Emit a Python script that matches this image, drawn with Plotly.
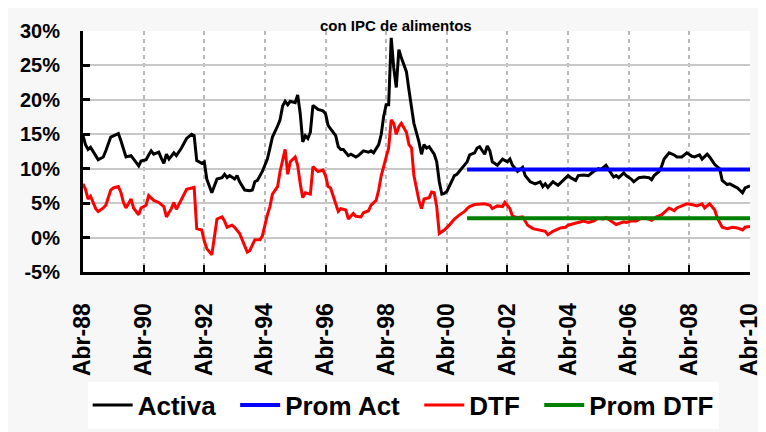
"""Tasas de interés reales (Activa y DTF) con IPC de alimentos — plotly chart."""

from __future__ import annotations

import pandas as pd
import plotly.graph_objects as go

# ── data ─────────────────────────────────────────────────────────────

START = "1988-04-01"

# months elapsed since Abr-88, real rates in %
ACT_MONTHS = [
    0, 1, 2, 3, 5, 6, 8, 9, 11, 14,
    15, 16, 17, 19, 20, 22, 23, 25, 26, 27,
    28, 30, 31, 32, 33, 34, 36, 37, 39, 41,
    43, 44, 45, 47, 48, 49, 51, 52, 53, 55,
    56, 57, 58, 60, 61, 62, 64, 66, 67, 68,
    69, 71, 73, 74, 75, 77, 78, 79, 80, 81,
    82, 84, 85, 86, 87, 88, 89, 90, 91, 93,
    95, 96, 97, 98, 100, 101, 102, 103, 105, 106,
    108, 109, 111, 113, 114, 115, 117, 118, 119, 120,
    121, 122, 123, 124, 125, 126, 128, 129, 130, 131,
    133, 134, 135, 136, 137, 139, 140, 141, 142, 143,
    144, 145, 146, 147, 148, 150, 151, 152, 153, 155,
    156, 157, 159, 160, 161, 162, 164, 165, 166, 168,
    169, 170, 172, 174, 175, 177, 179, 181, 182, 183,
    184, 186, 188, 190, 192, 193, 195, 196, 198, 200,
    202, 204, 205, 206, 207, 208, 210, 211, 212, 214,
    215, 217, 218, 220, 222, 224, 225, 226, 228, 229,
    230, 232, 234, 235, 237, 239, 241, 242, 244, 245,
    247, 248, 250, 252, 253, 255, 256, 258, 259, 261,
    262, 264,
]
ACTIVA = [
    14.8, 13.5, 12.8, 13.1, 11.9, 11.3, 11.7, 12.6, 14.6, 15.1,
    14.1, 12.8, 11.7, 11.9, 11.4, 10.4, 11.1, 11.3, 12.0, 12.6,
    12.1, 12.4, 11.5, 10.8, 12.1, 11.4, 12.3, 11.9, 13.0, 14.4,
    15.0, 14.8, 11.2, 10.8, 11.0, 8.5, 6.5, 7.6, 8.5, 8.7,
    9.2, 8.7, 9.0, 8.5, 9.0, 8.1, 6.9, 6.8, 6.9, 8.1,
    8.3, 9.6, 11.4, 13.0, 14.6, 16.2, 17.1, 19.1, 19.8, 19.3,
    19.8, 19.6, 20.7, 18.0, 13.9, 14.8, 14.4, 15.3, 19.2, 18.6,
    18.4, 18.0, 16.3, 15.8, 14.8, 13.2, 12.8, 12.8, 11.9, 12.1,
    11.7, 11.9, 12.6, 12.4, 12.6, 12.3, 13.5, 15.0, 17.5, 19.3,
    19.3, 29.0, 24.7, 21.8, 27.3, 26.1, 24.1, 21.4, 19.1, 16.6,
    13.9, 12.1, 13.5, 13.0, 13.2, 12.1, 11.0, 8.1, 6.3, 6.4,
    6.7, 7.4, 8.1, 9.0, 9.2, 10.1, 10.5, 11.0, 12.0, 12.3,
    13.0, 13.2, 12.1, 13.3, 12.6, 11.0, 10.5, 11.0, 11.4, 11.0,
    11.4, 10.5, 9.6, 10.2, 9.0, 8.1, 7.8, 8.1, 7.4, 7.8,
    7.3, 8.1, 7.6, 8.3, 9.0, 8.7, 8.3, 9.0, 9.1, 9.0,
    9.6, 10.0, 9.9, 10.2, 10.5, 9.9, 8.8, 9.0, 8.7, 9.4,
    9.0, 8.5, 8.1, 8.7, 8.8, 8.7, 8.4, 9.0, 9.6, 10.3,
    11.4, 12.3, 12.0, 11.7, 11.7, 12.3, 11.8, 11.7, 12.0, 11.4,
    12.1, 11.7, 10.6, 10.0, 8.3, 7.7, 7.8, 7.4, 7.2, 6.5,
    7.2, 7.5,
]

DTF_MONTHS = [
    0, 1, 2, 3, 5, 6, 8, 9, 11, 12,
    14, 15, 16, 17, 19, 20, 22, 23, 25, 26,
    28, 30, 32, 33, 35, 36, 37, 39, 41, 43,
    44, 45, 47, 48, 49, 51, 52, 53, 55, 56,
    57, 59, 60, 62, 64, 65, 66, 67, 68, 70,
    71, 73, 74, 75, 77, 78, 79, 80, 81, 82,
    84, 85, 86, 87, 88, 90, 91, 93, 95, 96,
    97, 98, 100, 101, 102, 104, 105, 107, 108, 110,
    111, 113, 114, 116, 117, 118, 120, 121, 122, 123,
    124, 125, 126, 128, 129, 130, 131, 133, 134, 135,
    137, 138, 139, 140, 141, 143, 145, 147, 149, 151,
    152, 153, 155, 157, 159, 161, 162, 164, 166, 167,
    169, 170, 172, 174, 176, 178, 181, 183, 184, 186,
    189, 191, 192, 194, 196, 198, 200, 202, 204, 206,
    207, 210, 211, 214, 215, 217, 219, 221, 223, 225,
    227, 229, 231, 232, 234, 235, 237, 239, 241, 243,
    245, 246, 248, 250, 251, 253, 255, 257, 259, 261,
    262, 264,
]
DTF = [
    7.8, 7.0, 5.6, 6.0, 4.2, 3.8, 4.3, 4.7, 6.9, 7.2,
    7.4, 6.6, 5.1, 4.3, 5.6, 4.3, 3.3, 4.3, 4.7, 6.1,
    5.4, 5.1, 4.5, 3.0, 4.2, 5.1, 4.1, 5.6, 7.0, 7.2,
    7.3, 1.3, 1.1, -0.5, -1.6, -2.5, 0.2, 2.7, 3.0, 2.4,
    1.5, 1.8, 1.5, 0.6, -1.2, -2.1, -1.9, -1.2, -0.3, -0.3,
    0.2, 3.3, 4.5, 6.3, 7.4, 9.6, 11.4, 12.8, 9.2, 11.0,
    11.7, 10.5, 7.8, 5.8, 6.5, 6.3, 10.3, 9.6, 9.8, 9.0,
    7.4, 7.2, 4.9, 3.8, 4.2, 4.0, 2.7, 3.5, 3.1, 3.0,
    3.6, 3.9, 4.7, 5.4, 6.9, 9.0, 11.7, 13.0, 17.1, 16.6,
    15.0, 16.1, 16.6, 15.3, 13.5, 13.0, 9.0, 5.4, 4.2, 5.6,
    5.8, 6.6, 6.5, 4.5, 0.6, 1.1, 1.8, 2.7, 3.3, 3.8,
    4.2, 4.5, 4.8, 4.9, 4.9, 4.7, 4.2, 4.6, 4.5, 5.1,
    4.2, 3.1, 2.9, 3.0, 1.8, 1.3, 1.1, 0.9, 0.4, 0.9,
    1.4, 1.5, 1.8, 2.0, 2.2, 2.4, 2.2, 2.4, 2.8, 2.7,
    2.9, 2.1, 1.9, 2.3, 2.2, 2.4, 2.4, 2.8, 2.8, 2.5,
    3.0, 3.3, 4.0, 4.3, 3.9, 4.3, 4.6, 4.9, 4.8, 4.6,
    4.9, 4.3, 4.9, 4.0, 2.9, 1.5, 1.3, 1.5, 1.4, 1.1,
    1.5, 1.6,
]

# averages since Dic-00
PROM_MONTHS = [152, 264]
PROM_ACT = [9.9, 9.9]
PROM_DTF = [2.8, 2.8]

TICK_DATES = [f"{y}-04-01" for y in range(1988, 2011, 2)]
TICK_LABELS = [
    "Abr-88", "Abr-90", "Abr-92", "Abr-94", "Abr-96", "Abr-98",
    "Abr-00", "Abr-02", "Abr-04", "Abr-06", "Abr-08", "Abr-10",
]
Y_TICKS = [-5, 0, 5, 10, 15, 20, 25, 30]
Y_LABELS = ["-5%", "0%", "5%", "10%", "15%", "20%", "25%", "30%"]

assert len(ACT_MONTHS) == len(ACTIVA)
assert len(DTF_MONTHS) == len(DTF)


def to_dates(months: list[int]) -> list[pd.Timestamp]:
    base = pd.Timestamp(START)
    return [base + pd.DateOffset(months=m) for m in months]


def legend_name(name: str) -> str:
    # trailing no-break spaces widen the gap between legend entries
    return f"<b>{name}</b>" + "\u00a0\u00a0"


# ── chart ────────────────────────────────────────────────────────────

FONT = "Liberation Sans, Arial, sans-serif"

fig = go.Figure()
fig.add_trace(
    go.Scatter(
        x=to_dates(ACT_MONTHS), y=ACTIVA, name=legend_name("Activa"), mode="lines",
        line={"color": "#000000", "width": 3},
    )
)
fig.add_trace(
    go.Scatter(
        x=to_dates(PROM_MONTHS), y=PROM_ACT, name=legend_name("Prom Act"), mode="lines",
        line={"color": "#0000ff", "width": 4},
    )
)
fig.add_trace(
    go.Scatter(
        x=to_dates(DTF_MONTHS), y=DTF, name=legend_name("DTF"), mode="lines",
        line={"color": "#ff0000", "width": 3},
    )
)
fig.add_trace(
    go.Scatter(
        x=to_dates(PROM_MONTHS), y=PROM_DTF, name="<b>Prom DTF</b>", mode="lines",
        line={"color": "#008000", "width": 4},
    )
)

# title sits right at the top edge, above the 30% gridline
fig.add_annotation(
    text="<b>con IPC de alimentos</b>",
    xref="paper", yref="paper", x=0.47, y=1.0618,
    xanchor="center", yanchor="top", showarrow=False,
    font={"family": FONT, "size": 15, "color": "#000000"},
    borderpad=0,
)

fig.update_layout(
    width=766,
    height=432,
    margin={"l": 71, "r": 14, "t": 16, "b": 157},
    paper_bgcolor="#f7f7f7",
    plot_bgcolor="#ffffff",
    showlegend=True,
    legend={
        "orientation": "h",
        "x": 0.48, "xanchor": "center",
        "y": -0.455, "yanchor": "top",
        "bgcolor": "#ffffff",
        "font": {"family": FONT, "size": 26, "color": "#000000"},
        "itemwidth": 40,
        "tracegroupgap": 0,
    },
    xaxis={
        "type": "date",
        "range": [START, "2010-04-01"],
        "tickvals": TICK_DATES,
        "ticktext": [f"<b>{t}</b>" for t in TICK_LABELS],
        "tickangle": -90,
        "tickfont": {"family": FONT, "size": 23, "color": "#000000"},
        "ticks": "inside",
        "ticklen": 7,
        "tickwidth": 2,
        "tickcolor": "#000000",
        "ticklabelstandoff": 19,
        "showline": True,
        "linecolor": "#000000",
        "linewidth": 3,
        "showgrid": True,
        "gridcolor": "#b8b8b8",
        "gridwidth": 1.5,
        "griddash": "4px,4px",
        "zeroline": False,
    },
    yaxis={
        "range": [-5, 30],
        "tickvals": Y_TICKS,
        "ticktext": [f"<b>{t}</b>" for t in Y_LABELS],
        "tickfont": {"family": FONT, "size": 20, "color": "#000000"},
        "ticks": "inside",
        "ticklen": 7,
        "tickwidth": 3,
        "tickcolor": "#000000",
        "ticklabelstandoff": 16,
        "showline": True,
        "linecolor": "#000000",
        "linewidth": 3,
        "showgrid": True,
        "gridcolor": "#c8c8c8",
        "gridwidth": 1.5,
        "zeroline": False,
    },
)

fig.write_html("out.html")
